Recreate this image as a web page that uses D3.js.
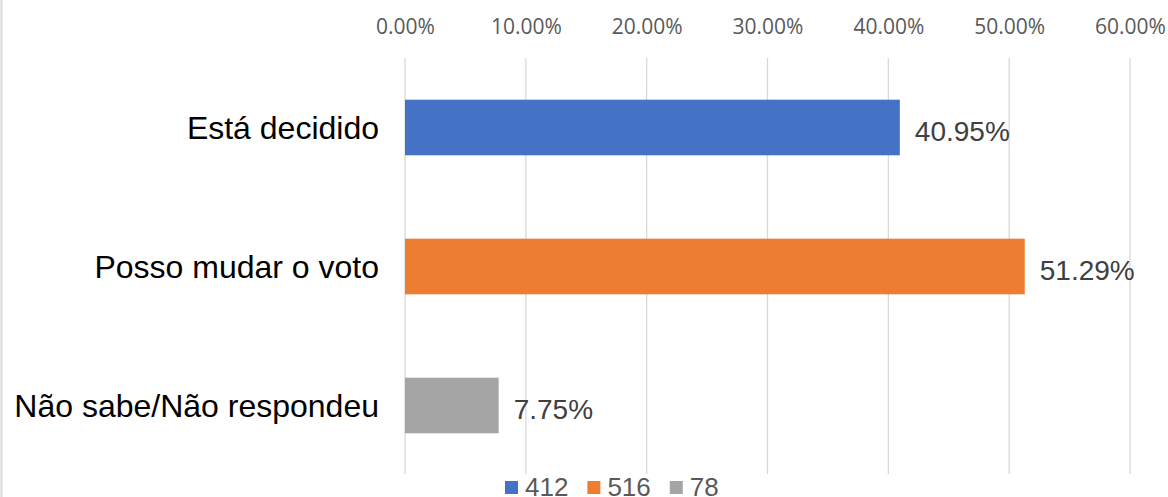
<!DOCTYPE html>
<html>
<head>
<meta charset="utf-8">
<script src="https://cdn.jsdelivr.net/npm/d3@7"></script>
<style>
  html, body { margin: 0; padding: 0; background: #fff; overflow: hidden; }
</style>
</head>
<body>
<svg id="chart" width="1168" height="497"></svg>
<script>
const categories = ["Está decidido", "Posso mudar o voto", "Não sabe/Não respondeu"];
const values = [0.4095, 0.5129, 0.0775];
const valueLabels = ["40.95%", "51.29%", "7.75%"];
const colors = ["#4472C4", "#ED7D31", "#A5A5A5"];
const legendLabels = ["412", "516", "78"];
const tickValues = [0, 0.1, 0.2, 0.3, 0.4, 0.5, 0.6];

const svg = d3.select("#chart");
const W = 1168, H = 497;
const plot = { left: 405, right: 1130, top: 58, bottom: 474 };

// border on the left
svg.append("line")
  .attr("x1", 1.5).attr("x2", 1.5).attr("y1", 0).attr("y2", H)
  .attr("stroke", "#d9d9d9").attr("stroke-width", 2);

const x = d3.scaleLinear().domain([0, 0.6]).range([plot.left, plot.right]);
const y = d3.scaleBand().domain(categories).range([plot.top, plot.bottom + 1])
  .paddingInner(0.6).paddingOuter(0.3);

// gridlines
svg.append("g").selectAll("line").data(tickValues).join("line")
  .attr("x1", d => x(d)).attr("x2", d => x(d))
  .attr("y1", plot.top).attr("y2", plot.bottom)
  .attr("stroke", "#d9d9d9").attr("stroke-width", 1.3);

// top axis labels
const axis = d3.axisTop(x).tickValues(tickValues).tickSize(0).tickFormat(d3.format(".2%"));
const ag = svg.append("g").attr("transform", "translate(0,34)").call(axis);
ag.select(".domain").remove();
ag.selectAll("text")
  .attr("y", 0).attr("dy", 0)
  .attr("font-family", "'Open Sans', sans-serif")
  .attr("font-size", 21)
  .attr("fill", "#595959");

// bars
svg.append("g").selectAll("rect").data(categories).join("rect")
  .attr("x", x(0))
  .attr("y", d => y(d))
  .attr("width", (d, i) => x(values[i]) - x(0))
  .attr("height", y.bandwidth())
  .attr("fill", (d, i) => colors[i]);

// data labels
svg.append("g").selectAll("text").data(categories).join("text")
  .attr("x", (d, i) => x(values[i]) + 15)
  .attr("y", d => y(d) + y.bandwidth() / 2 + 13)
  .attr("font-family", "'Liberation Sans', Arial, sans-serif")
  .attr("font-size", 28)
  .attr("fill", "#404040")
  .text((d, i) => valueLabels[i]);

// category labels
svg.append("g").selectAll("text").data(categories).join("text")
  .attr("x", 379)
  .attr("y", d => y(d) + y.bandwidth() / 2 + 11)
  .attr("text-anchor", "end")
  .attr("font-family", "'Liberation Sans', Arial, sans-serif")
  .attr("font-size", 32)
  .attr("fill", "#000000")
  .text(d => d);

// legend
const lg = svg.append("g");
let lx = 505;
legendLabels.forEach((lab, i) => {
  lg.append("rect").attr("x", lx).attr("y", 481).attr("width", 13).attr("height", 13)
    .attr("fill", colors[i]);
  const t = lg.append("text").attr("x", lx + 20).attr("y", 496)
    .attr("font-family", "'Liberation Sans', Arial, sans-serif")
    .attr("font-size", 26).attr("fill", "#595959").text(lab);
  lx += 20 + t.node().getComputedTextLength() + 19;
});
</script>
</body>
</html>
